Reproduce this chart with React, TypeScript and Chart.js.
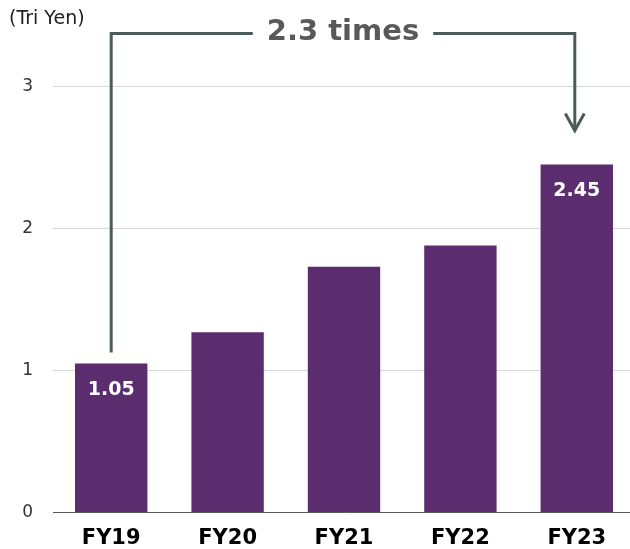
import React, { useEffect, useRef } from "react";
import { Chart, registerables } from "chart.js";

Chart.register(...registerables);

// Fiscal years and revenue (trillion yen)
const categories = ["FY19", "FY20", "FY21", "FY22", "FY23"];
const revenue = [1.05, 1.27, 1.73, 1.88, 2.45];
// Bars whose value is printed inside the bar
const labelledBars = [0, 4];
const unitLabel = "(Tri Yen)";

const FONT = "'DejaVu Sans', Verdana, sans-serif";
const BAR_COLOR = "#5b2d6e";
const BRACKET_COLOR = "#4a5b5b";

const growthBracket = {
  id: "growthBracket",
  afterDatasetsDraw(chart: any) {
    const { ctx, scales } = chart;
    const x = scales.x;
    const y = scales.y;
    const meta = chart.getDatasetMeta(0);

    // value labels inside bars
    ctx.save();
    ctx.fillStyle = "#ffffff";
    ctx.font = `bold 19px ${FONT}`;
    ctx.textAlign = "center";
    ctx.textBaseline = "middle";
    labelledBars.forEach((i) => {
      const bar = meta.data[i];
      ctx.fillText(revenue[i].toFixed(2), bar.x, bar.y + 26.5);
    });
    ctx.restore();

    // unit caption
    ctx.save();
    ctx.fillStyle = "#222";
    ctx.font = `19px ${FONT}`;
    ctx.textAlign = "left";
    ctx.textBaseline = "middle";
    ctx.fillText(unitLabel, 9, 19.5);
    ctx.restore();

    // bracket from first to last bar with growth multiple
    const first = 0;
    const last = revenue.length - 1;
    const x0 = x.getPixelForValue(first);
    const x1 = x.getPixelForValue(last);
    const yTop = Math.round(y.getPixelForValue(3.38)) + 0.5;
    const yStart = y.getPixelForValue(revenue[first]) - 11;
    const yTip = y.getPixelForValue(revenue[last]) - 34;

    const text = `${(revenue[last] / revenue[first]).toFixed(1)} times`;
    ctx.save();
    ctx.font = `bold 29px ${FONT}`;
    const tw = ctx.measureText(text).width;
    const cx = (x0 + x1) / 2 - 1;
    const gap = 14;

    ctx.strokeStyle = BRACKET_COLOR;
    ctx.lineWidth = 3;
    ctx.lineJoin = "miter";
    ctx.lineCap = "butt";
    ctx.beginPath();
    ctx.moveTo(x0, yStart);
    ctx.lineTo(x0, yTop);
    ctx.lineTo(cx - tw / 2 - gap, yTop);
    ctx.stroke();

    ctx.beginPath();
    ctx.moveTo(cx + tw / 2 + gap, yTop);
    ctx.lineTo(x1 - 2, yTop);
    ctx.lineTo(x1 - 2, yTip - 1);
    ctx.stroke();

    ctx.beginPath();
    ctx.moveTo(x1 - 2 - 9.5, yTip - 17);
    ctx.lineTo(x1 - 2, yTip);
    ctx.lineTo(x1 - 2 + 9.5, yTip - 17);
    ctx.stroke();

    ctx.fillStyle = "#595959";
    ctx.textAlign = "center";
    ctx.textBaseline = "middle";
    ctx.fillText(text, cx, yTop - 1);
    ctx.restore();
  },
};

export default function App() {
  const ref = useRef<HTMLCanvasElement | null>(null);

  useEffect(() => {
    if (!ref.current) return;
    const chart = new Chart(ref.current, {
      type: "bar",
      data: {
        labels: categories,
        datasets: [
          {
            data: revenue,
            backgroundColor: BAR_COLOR,
            borderWidth: 0,
            categoryPercentage: 1,
            barPercentage: 0.622,
          },
        ],
      },
      options: {
        responsive: false,
        animation: false,
        layout: { padding: { top: 15.5, right: 5, bottom: 0, left: 0 } },
        plugins: {
          legend: { display: false },
          tooltip: { enabled: false },
          title: { display: false },
        },
        scales: {
          x: {
            grid: { display: false, drawTicks: false },
            border: { display: true, color: "#595959", width: 1 },
            ticks: {
              color: "#000",
              font: { family: FONT, size: 21, weight: "bold" },
              padding: 13,
            },
            afterFit: (s: any) => {
              s.height = 36.5;
            },
          },
          y: {
            min: 0,
            max: 3.5,
            grid: { color: "#d9d9d9", lineWidth: 1, drawTicks: false },
            border: { display: false },
            ticks: {
              stepSize: 1,
              color: "#333",
              font: { family: FONT, size: 17 },
              padding: 20,
            },
            afterBuildTicks: (s: any) => {
              s.ticks = s.ticks.filter((t: any) => Number.isInteger(t.value));
            },
            afterFit: (s: any) => {
              s.width = 53;
              s.paddingTop = 0;
              s.paddingBottom = 0;
            },
          },
        },
      },
      plugins: [growthBracket],
    });
    return () => chart.destroy();
  }, []);

  return (
    <canvas
      ref={ref}
      width={640}
      height={549}
      style={{ position: "fixed", left: 0, top: 0, width: 640, height: 549, background: "#fff" }}
    />
  );
}
